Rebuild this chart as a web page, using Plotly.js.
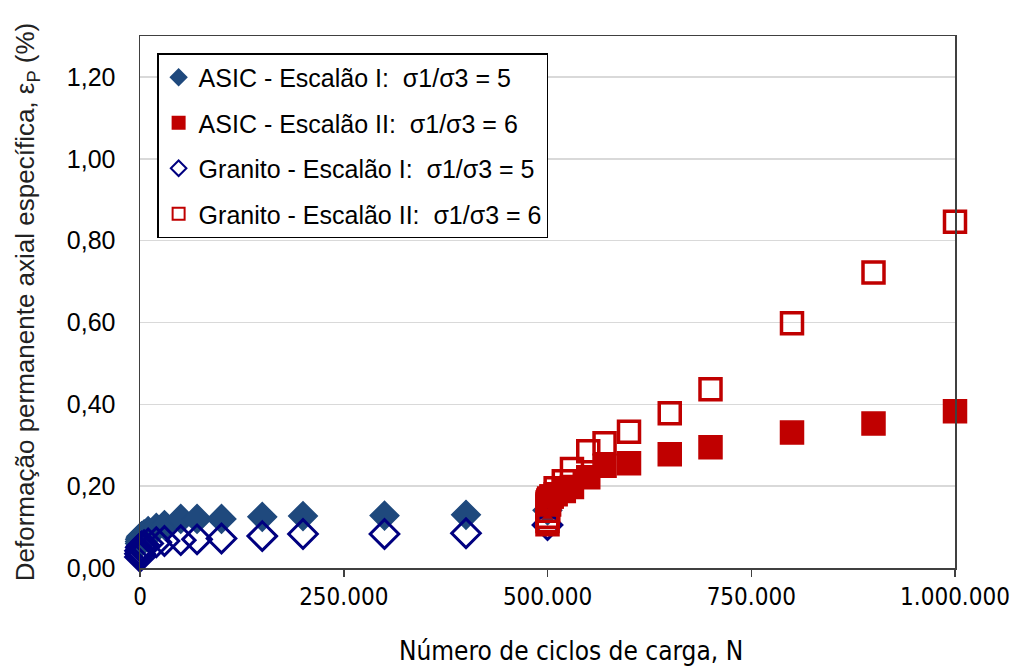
<!DOCTYPE html>
<html>
<head>
<meta charset="utf-8">
<script src="https://cdn.plot.ly/plotly-3.0.1.min.js"></script>
<style>
html,body{margin:0;padding:0;background:#fff;}
#chart{width:1019px;height:668px;}
</style>
</head>
<body>
<div id="chart"></div>
<script>
// Escalão I load cycles
var ciclosI = [1, 10, 100, 1000, 2000, 5000, 10000, 20000, 30000, 50000, 70000, 100000, 150000, 200000, 300000, 400000, 500000];
// Escalão II load cycles
var ciclosII = [500001, 500010, 500100, 501000, 502000, 505000, 510000, 520000, 530000, 550000, 570000, 600000, 650000, 700000, 800000, 900000, 1000000];

var asicI = [0.060, 0.065, 0.070, 0.075, 0.078, 0.082, 0.090, 0.098, 0.105, 0.120, 0.120, 0.120, 0.125, 0.127, 0.128, 0.130, 0.141];
var asicII = [0.150, 0.155, 0.160, 0.165, 0.170, 0.175, 0.180, 0.188, 0.198, 0.222, 0.250, 0.256, 0.278, 0.295, 0.331, 0.353, 0.383];
var granitoI = [0.027, 0.035, 0.042, 0.050, 0.053, 0.056, 0.060, 0.063, 0.066, 0.068, 0.070, 0.072, 0.078, 0.083, 0.083, 0.085, 0.105];
var granitoII = [0.107, 0.115, 0.125, 0.140, 0.155, 0.175, 0.195, 0.212, 0.242, 0.285, 0.305, 0.333, 0.378, 0.437, 0.598, 0.722, 0.846];

var nomes = [
  'ASIC - Escalão I:\u00a0 σ1/σ3 = 5',
  'ASIC - Escalão II:\u00a0 σ1/σ3 = 6',
  'Granito - Escalão I:\u00a0 σ1/σ3 = 5',
  'Granito - Escalão II:\u00a0 σ1/σ3 = 6'
];
var tituloX = 'Número de ciclos de carga, N';
var tituloY = 'Deformação permanente axial específica, ε<sub>P</sub> (%)';

var narrow = 'DejaVu Sans Condensed, Liberation Sans Narrow, Arial Narrow, Liberation Sans, sans-serif';

var traces = [
  {x: ciclosI, y: asicI, name: nomes[0], legendgroup: 'a', type: 'scatter', mode: 'markers', cliponaxis: false,
   marker: {symbol: 'diamond', size: 22, color: '#1F497D', line: {color: '#1F497D', width: 1.5}}},
  {x: ciclosII, y: asicII, name: nomes[1], legendgroup: 'b', type: 'scatter', mode: 'markers', cliponaxis: false,
   marker: {symbol: 'square', size: 23, color: '#C00000', line: {color: '#C00000', width: 1.5}}},
  {x: ciclosI, y: granitoI, name: nomes[2], legendgroup: 'c', type: 'scatter', mode: 'markers', cliponaxis: false,
   marker: {symbol: 'diamond-open', size: 22, color: '#000080', line: {color: '#000080', width: 3}}},
  {x: ciclosII, y: granitoII, name: nomes[3], legendgroup: 'd', type: 'scatter', mode: 'markers', cliponaxis: false,
   marker: {symbol: 'square-open', size: 21, color: '#C00000', line: {color: '#C00000', width: 3.5}}}
];

var layout = {
  width: 1019, height: 668,
  paper_bgcolor: '#ffffff', plot_bgcolor: '#ffffff',
  separators: ',.',
  margin: {l: 140, r: 64, t: 36, b: 100},
  showlegend: true,
  legend: {
    x: 0.021, y: 0.968, xanchor: 'left', yanchor: 'top',
    bgcolor: '#ffffff', bordercolor: '#000000', borderwidth: 1.5,
    font: {family: 'Liberation Sans, Arial, sans-serif', size: 25, color: '#000000'},
    traceorder: 'grouped', tracegroupgap: 10, itemsizing: 'constant'
  },
  xaxis: {
    range: [0, 1000000], tick0: 0, dtick: 250000, tickformat: ',d',
    showgrid: false, zeroline: false,
    showline: true, linecolor: '#404040', linewidth: 1.5, mirror: true,
    ticks: 'outside', ticklen: 7, tickwidth: 1.5, tickcolor: '#404040',
    tickfont: {family: narrow, size: 24, color: '#000000'}
  },
  yaxis: {
    range: [0, 1.3], tick0: 0, dtick: 0.2, tickformat: '.2f',
    showgrid: true, gridcolor: '#D9D9D9', gridwidth: 1.5, zeroline: false,
    showline: true, linecolor: '#404040', linewidth: 1.5, mirror: true,
    ticks: '', ticklabelstandoff: 18,
    tickfont: {family: 'Liberation Sans, Arial, sans-serif', size: 25, color: '#000000'},
    title: {text: tituloY, standoff: 24,
      font: {family: 'Liberation Sans, Arial, sans-serif', size: 26, color: '#222222'}}
  },
  annotations: [
    {text: tituloX, xref: 'paper', yref: 'paper', x: 0.529, y: -0.156,
     xanchor: 'center', yanchor: 'middle', showarrow: false,
     font: {family: narrow, size: 26, color: '#000000'}}
  ]
};

Plotly.newPlot('chart', traces, layout, {displayModeBar: false, staticPlot: true});
</script>
</body>
</html>
